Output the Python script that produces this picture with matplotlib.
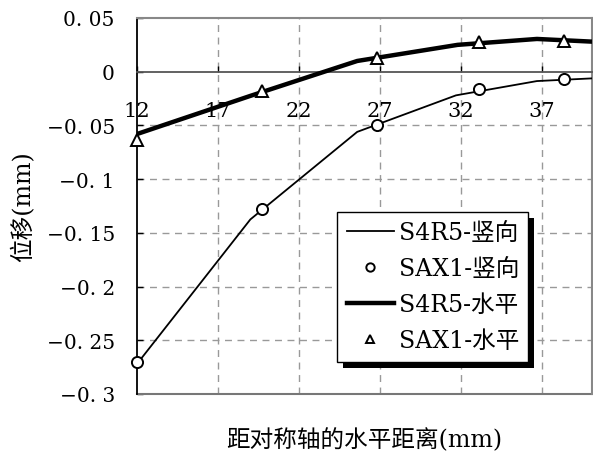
import matplotlib
matplotlib.use('Agg')
import matplotlib.pyplot as plt
from matplotlib.lines import Line2D
from matplotlib.patches import Rectangle
from matplotlib.transforms import IdentityTransform

plt.rcParams['font.family'] = ['DejaVu Serif', 'Noto Sans CJK SC']

# S4R5 model curves (distance from symmetry axis, displacement in mm)
s4r5_v_x = [12, 19.0, 25.6, 31.7, 36.7, 40.1]
s4r5_v_y = [-0.272, -0.1375, -0.056, -0.022, -0.0087, -0.0062]
s4r5_h_x = [12, 19.0, 25.6, 31.8, 36.7, 40.1]
s4r5_h_y = [-0.058, -0.0225, 0.010, 0.025, 0.0305, 0.028]

# SAX1 measured points
sax1_x = [12, 19.75, 26.8, 33.1, 38.4]
sax1_v = [-0.270, -0.1276, -0.0493, -0.0158, -0.0065]
sax1_h = [-0.064, -0.0177, 0.0125, 0.0276, 0.029]

xticks = [12, 17, 22, 27, 32, 37]
yticks = [0.05, 0, -0.05, -0.1, -0.15, -0.2, -0.25, -0.3]
ytick_labels = ['0. 05', '0', '\u22120. 05', '\u22120. 1', '\u22120. 15',
                '\u22120. 2', '\u22120. 25', '\u22120. 3']

W, H = 593, 456
fig = plt.figure(figsize=(W / 100, H / 100), dpi=100)
ax = fig.add_axes([137 / W, (H - 395) / H, 455 / W, 376 / H])

ax.set_xlim(12, 40.1)
ax.set_ylim(-0.3, 0.05)

# grid
for x in xticks[1:]:
    ax.axvline(x, color='#999999', lw=1.0, ls=(0, (5, 4)), zorder=1)
for y in yticks[2:-1]:
    ax.axhline(y, color='#999999', lw=1.0, ls=(0, (5, 4)), zorder=1)

# data
ax.plot(s4r5_v_x, s4r5_v_y, color='black', lw=1.3, zorder=3)
ax.plot(sax1_x, sax1_v, ls='none', marker='o', ms=8, mfc='white',
        mec='black', mew=1.4, zorder=4, clip_on=False)
ax.plot(s4r5_h_x, s4r5_h_y, color='black', lw=3.2, zorder=3)
ax.plot(sax1_x, sax1_h, ls='none', marker='^', ms=9, mfc='white',
        mec='black', mew=1.4, zorder=4, clip_on=False)

# axes / frame
ax.spines['bottom'].set_position(('data', 0))
ax.spines['bottom'].set_color('#555555')
ax.spines['bottom'].set_linewidth(1.3)
ax.spines['left'].set_color('black')
ax.spines['left'].set_linewidth(1.3)
for s in ['top', 'right']:
    ax.spines[s].set_color('#888888')
    ax.spines[s].set_linewidth(1.5)
ax.axhline(-0.3, color='#777777', lw=1.5, clip_on=False, zorder=2)

ax.set_xticks(xticks)
ax.set_xticklabels([str(t) for t in xticks])
ax.set_yticks(yticks)
ax.set_yticklabels(ytick_labels)
ax.tick_params(axis='x', direction='in', length=4, width=1, pad=21,
               labelsize=15)
ax.tick_params(axis='y', direction='in', length=4, width=1, pad=16,
               labelsize=14.5)

ax.set_ylabel('位移(mm)', fontsize=17)
ax.yaxis.set_label_coords(-0.224, 0.5)
fig.text(364 / W, 1 - 440 / H, '距对称轴的水平距离(mm)', fontsize=17,
         ha='center', va='center')

handles = [
    Line2D([], [], color='black', lw=1.3),
    Line2D([], [], ls='none', marker='o', ms=6, mfc='white', mec='black', mew=1.4),
    Line2D([], [], color='black', lw=3.2),
    Line2D([], [], ls='none', marker='^', ms=6, mfc='white', mec='black', mew=1.4),
]
labels = ['S4R5-竖向', 'SAX1-竖向', 'S4R5-水平', 'SAX1-水平']
leg = ax.legend(handles, labels, loc='upper left', bbox_to_anchor=(0.44, 0.484),
                borderaxespad=0, fancybox=False, framealpha=1, edgecolor='black',
                fontsize=17, handlelength=2.0, handletextpad=0.2,
                labelspacing=0.55, borderpad=0.4)
leg.get_frame().set_linewidth(1.0)
leg.set_zorder(6)

fig.canvas.draw()
bb = leg.get_frame().get_window_extent()
shadow = Rectangle((bb.x0 + 6, bb.y0 - 6), bb.width, bb.height, transform=IdentityTransform(),
                   facecolor='black', edgecolor='none', zorder=5.5, clip_on=False)
ax.add_artist(shadow)

fig.savefig('out.png', dpi=100)
